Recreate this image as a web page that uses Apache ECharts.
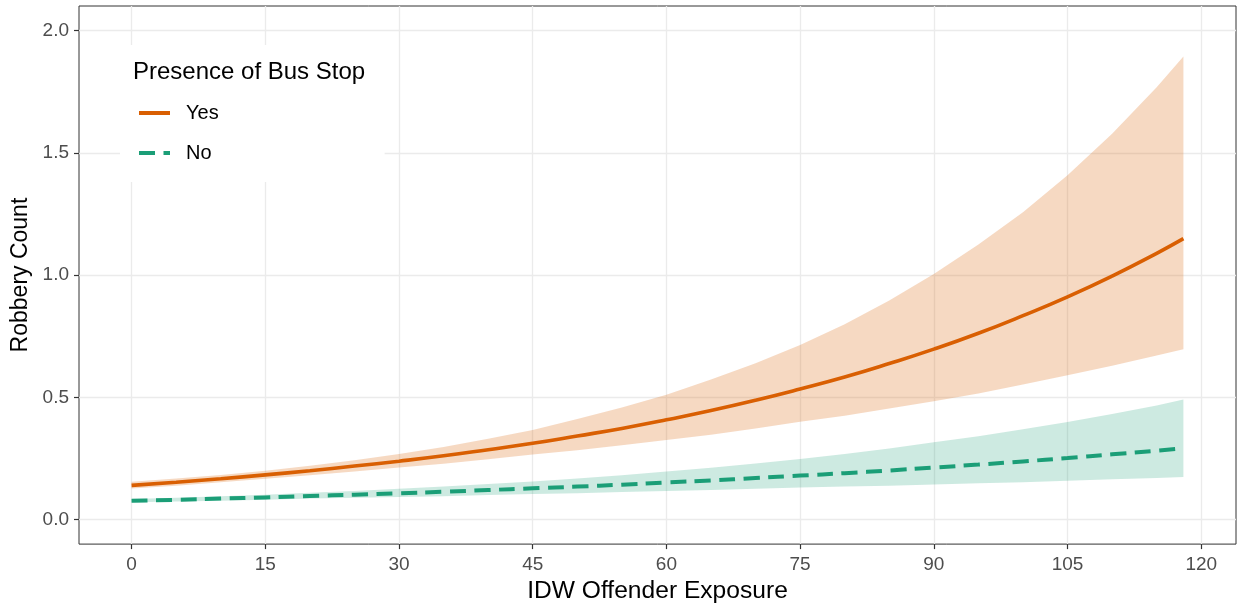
<!DOCTYPE html>
<html>
<head>
<meta charset="utf-8">
<script src="https://cdn.jsdelivr.net/npm/echarts@6/dist/echarts.min.js"></script>
<style>
html,body{margin:0;padding:0;background:#fff;}
#chart{width:1237px;height:609px;}
</style>
</head>
<body>
<div id="chart"></div>
<script>
// ---- data ----
var exposure = [0,5,10,15,20,25,30,35,40,45,50,55,60,65,70,75,80,85,90,95,100,105,110,115,118];
var yesFit   = [0.140,0.153,0.167,0.183,0.200,0.219,0.239,0.261,0.286,0.312,0.342,0.373,0.408,0.446,0.488,0.534,0.583,0.638,0.697,0.762,0.834,0.911,0.996,1.089,1.149];
var yesLower = [0.127,0.139,0.153,0.167,0.182,0.197,0.213,0.229,0.247,0.266,0.284,0.304,0.326,0.347,0.373,0.400,0.425,0.454,0.484,0.516,0.553,0.590,0.629,0.671,0.697];
var yesUpper = [0.155,0.168,0.183,0.200,0.220,0.243,0.268,0.297,0.331,0.366,0.411,0.458,0.511,0.573,0.639,0.714,0.799,0.896,1.004,1.125,1.257,1.408,1.578,1.768,1.894];
var noFit    = [0.077,0.081,0.086,0.091,0.097,0.102,0.108,0.114,0.121,0.128,0.135,0.143,0.152,0.160,0.170,0.180,0.190,0.201,0.213,0.225,0.238,0.252,0.267,0.282,0.292];
var noLower  = [0.071,0.074,0.077,0.081,0.086,0.089,0.093,0.096,0.101,0.105,0.108,0.113,0.117,0.121,0.126,0.131,0.135,0.139,0.144,0.149,0.153,0.159,0.165,0.170,0.174];
var noUpper  = [0.084,0.089,0.096,0.102,0.110,0.117,0.126,0.135,0.146,0.156,0.168,0.182,0.197,0.212,0.230,0.248,0.268,0.291,0.316,0.341,0.370,0.399,0.432,0.467,0.491];
var xTicks = [0,15,30,45,60,75,90,105,120];
var yTicks = [0,0.5,1,1.5,2];
var legendTitle = 'Presence of Bus Stop';
var xTitle = 'IDW Offender Exposure';
var yTitle = 'Robbery Count';

var ORANGE = '#D95F02', TEAL = '#1B9E77';
var FONT = 'Liberation Sans, Arial, sans-serif';

function pairs(ys){ return exposure.map(function(x,i){ return [x, ys[i]]; }); }

function ribbonSeries(name, lower, upper, color, opacity){
  return {
    name:name, type:'custom', silent:true, z:1,
    data:[[exposure[0], lower[0]]],
    renderItem:function(params, api){
      var pts = [];
      for (var i = 0; i < exposure.length; i++) pts.push(api.coord([exposure[i], upper[i]]));
      for (var j = exposure.length - 1; j >= 0; j--) pts.push(api.coord([exposure[j], lower[j]]));
      return {type:'polygon', shape:{points:pts}, style:{fill:color, opacity:opacity}};
    }
  };
}

var chart = echarts.init(document.getElementById('chart'), null, {renderer:'canvas'});
var axisLabelStyle = {color:'#4d4d4d', fontSize:19, fontFamily:FONT};
chart.setOption({
  animation:false,
  backgroundColor:'#ffffff',
  title:{
    text:legendTitle, left:133, top:60,
    textStyle:{fontSize:24, fontWeight:'normal', color:'#000', fontFamily:FONT},
    padding:0, z:10
  },
  legend:{
    data:['Yes','No'], orient:'vertical', left:120, top:45,
    padding:[58,166,19,17], backgroundColor:'#ffffff',
    itemWidth:31, itemHeight:1, itemGap:20,
    lineStyle:{width:4},
    textStyle:{fontSize:20, color:'#000', lineHeight:20, padding:[0,0,0,11], fontFamily:FONT},
    z:5
  },
  grid:{left:79, right:1, top:6, bottom:62, show:true, borderColor:'#333', borderWidth:1, backgroundColor:'transparent'},
  xAxis:{
    type:'value', min:-5.9, max:123.9,
    name:xTitle, nameLocation:'middle', nameGap:33,
    nameTextStyle:{fontSize:24.6, color:'#000', fontFamily:FONT},
    axisLine:{show:false, onZero:false},
    axisTick:{show:true, length:5, lineStyle:{color:'#333', width:1.2}, customValues:xTicks},
    axisLabel:Object.assign({margin:11, customValues:xTicks}, axisLabelStyle),
    splitLine:{show:true, lineStyle:{color:'#ebebeb', width:1.3}}
  },
  yAxis:{
    type:'value', min:-0.1, max:2.1,
    name:yTitle, nameLocation:'middle', nameGap:46, nameRotate:90,
    nameTextStyle:{fontSize:23, color:'#000', fontFamily:FONT},
    axisLine:{show:false, onZero:false},
    axisTick:{show:true, length:5, lineStyle:{color:'#333', width:1.2}, customValues:yTicks},
    axisLabel:Object.assign({margin:10, customValues:yTicks, formatter:function(v){return v.toFixed(1);}}, axisLabelStyle),
    splitLine:{show:true, lineStyle:{color:'#ebebeb', width:1.3}}
  },
  series:[
    ribbonSeries('yesBand', yesLower, yesUpper, ORANGE, 0.24),
    ribbonSeries('noBand', noLower, noUpper, TEAL, 0.22),
    {name:'Yes', type:'line', data:pairs(yesFit), symbol:'none', smooth:true, color:ORANGE,
     lineStyle:{color:ORANGE, width:3.6}, z:3},
    {name:'No', type:'line', data:pairs(noFit), symbol:'none', smooth:true, color:TEAL,
     lineStyle:{color:TEAL, width:4, type:[16,8.5]}, z:3}
  ]
});
</script>
</body>
</html>
